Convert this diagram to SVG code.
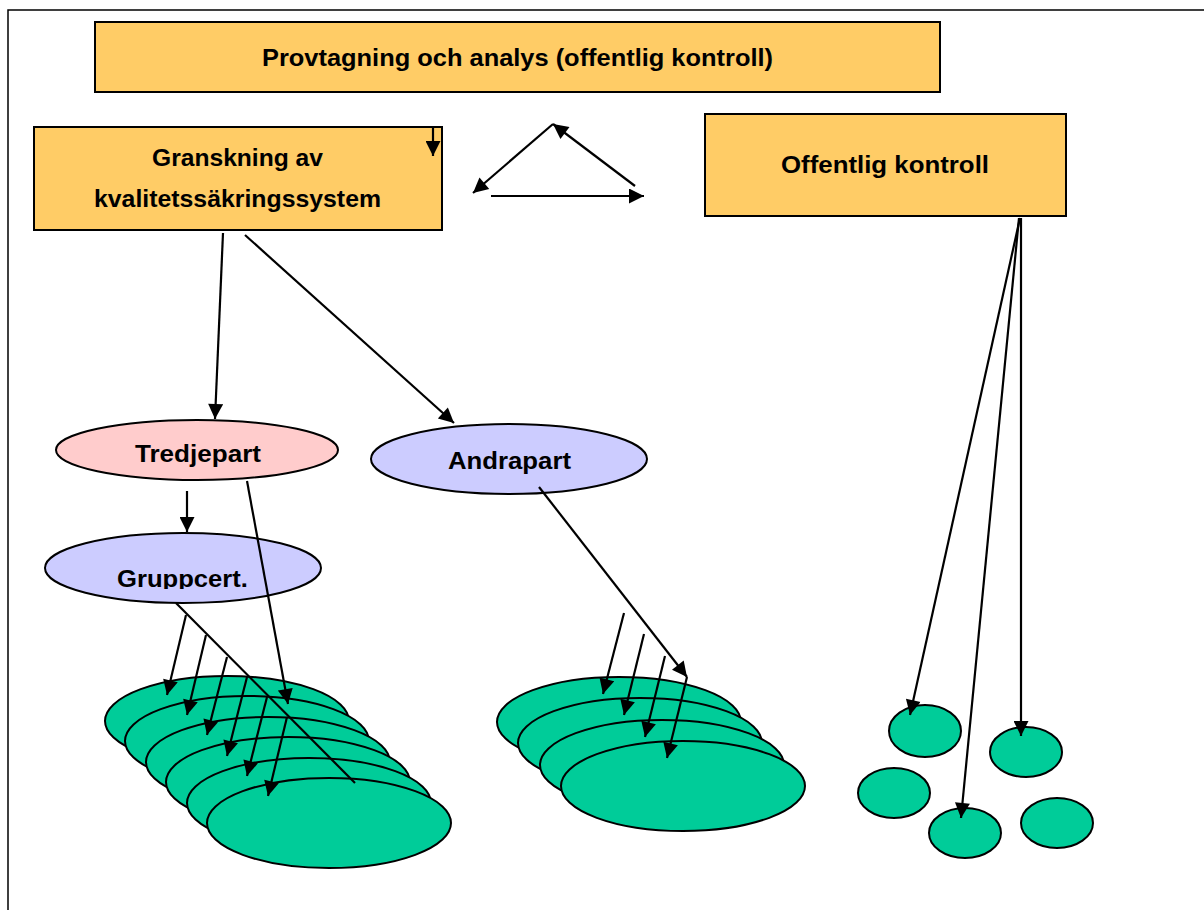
<svg xmlns="http://www.w3.org/2000/svg" width="1204" height="910" viewBox="0 0 1204 910">
<style>
.box{fill:#FFCC66;stroke:#000;stroke-width:2}
.pink{fill:#FFCCCC;stroke:#000;stroke-width:2}
.lav{fill:#CCCCFF;stroke:#000;stroke-width:2}
.grn{fill:#00CC99;stroke:#000;stroke-width:2}
.t{font-family:"Liberation Sans",Arial,sans-serif;font-weight:bold;font-size:24.5px;fill:#000}
.c{stroke:#000;stroke-width:2.2;fill:none}
.a{stroke:#000;stroke-width:2.2;fill:none;marker-end:url(#ah)}
</style>
<defs>
<marker id="ah" viewBox="0 0 10 10" refX="10" refY="5" markerWidth="17" markerHeight="15" markerUnits="userSpaceOnUse" orient="auto"><path d="M0,0 L10,5 L0,10 z" fill="#000"/></marker>
<clipPath id="gclip"><rect x="40" y="530" width="300" height="59"/></clipPath>
</defs>
<rect width="1204" height="910" fill="#fff"/>
<path d="M8,910 V10 H1210" fill="none" stroke="#000" stroke-width="1.5"/>

<g id="provtagning">
<rect class="box" x="95" y="22" width="845" height="70"/>
<text class="t" x="262" y="66" textLength="511" lengthAdjust="spacingAndGlyphs">Provtagning och analys (offentlig kontroll)</text>
</g>
<g id="granskning">
<rect class="box" x="34" y="127" width="408" height="103"/>
<text class="t" x="152" y="166" textLength="171" lengthAdjust="spacingAndGlyphs">Granskning av</text>
<text class="t" x="94" y="207" textLength="287" lengthAdjust="spacingAndGlyphs">kvalitetssäkringssystem</text>
</g>
<g id="offentlig">
<rect class="box" x="705" y="114" width="361" height="102"/>
<text class="t" x="781" y="173" textLength="208" lengthAdjust="spacingAndGlyphs">Offentlig kontroll</text>
</g>

<g id="cluster-left">
<ellipse class="grn" cx="227" cy="721" rx="122" ry="45"/>
<ellipse class="grn" cx="247" cy="741" rx="122" ry="45"/>
<ellipse class="grn" cx="268" cy="762" rx="122" ry="45"/>
<ellipse class="grn" cx="288" cy="782" rx="122" ry="45"/>
<ellipse class="grn" cx="309" cy="803" rx="122" ry="45"/>
<ellipse class="grn" cx="329" cy="823" rx="122" ry="45"/>
</g>
<g id="cluster-middle">
<ellipse class="grn" cx="619" cy="722" rx="122" ry="45"/>
<ellipse class="grn" cx="640" cy="743" rx="122" ry="45"/>
<ellipse class="grn" cx="662" cy="765" rx="122" ry="45"/>
<ellipse class="grn" cx="683" cy="786" rx="122" ry="45"/>
</g>
<g id="cluster-right">
<ellipse class="grn" cx="925" cy="731" rx="36" ry="26"/>
<ellipse class="grn" cx="1026" cy="752" rx="36" ry="25"/>
<ellipse class="grn" cx="894" cy="793" rx="36" ry="25"/>
<ellipse class="grn" cx="965" cy="833" rx="36" ry="25"/>
<ellipse class="grn" cx="1057" cy="823" rx="36" ry="25"/>
</g>

<g id="tredjepart">
<ellipse class="pink" cx="197" cy="450" rx="141" ry="30"/>
<text class="t" x="135" y="462" textLength="126" lengthAdjust="spacingAndGlyphs">Tredjepart</text>
</g>
<g id="andrapart">
<ellipse class="lav" cx="509" cy="459" rx="138" ry="35"/>
<text class="t" x="448" y="469" textLength="123" lengthAdjust="spacingAndGlyphs">Andrapart</text>
</g>
<g id="gruppcert">
<ellipse class="lav" cx="183" cy="568" rx="138" ry="35"/>
<text class="t" x="117" y="587" textLength="131" lengthAdjust="spacingAndGlyphs" clip-path="url(#gclip)">Gruppcert.</text>
</g>

<g id="connectors">
<line class="a" x1="433" y1="127" x2="433" y2="156"/>
<line class="a" x1="553" y1="124" x2="473" y2="193"/>
<line class="a" x1="635" y1="186" x2="553" y2="124"/>
<line class="a" x1="491" y1="196" x2="644" y2="196"/>
<line class="a" x1="223" y1="233" x2="215" y2="419"/>
<line class="a" x1="245" y1="235" x2="454" y2="423"/>
<line class="a" x1="187" y1="491" x2="187" y2="532"/>
<line class="a" x1="247" y1="481" x2="288" y2="704"/>
<line class="c" x1="176" y1="603" x2="355" y2="783"/>
<line class="a" x1="186" y1="615" x2="167" y2="695"/>
<line class="a" x1="206" y1="635" x2="187" y2="715"/>
<line class="a" x1="227" y1="657" x2="207" y2="735"/>
<line class="a" x1="247" y1="677" x2="227" y2="756"/>
<line class="a" x1="267" y1="697" x2="247" y2="776"/>
<line class="a" x1="287" y1="717" x2="268" y2="796"/>
<line class="a" x1="539" y1="487" x2="687" y2="677"/>
<line class="a" x1="624" y1="613" x2="603" y2="694"/>
<line class="a" x1="644" y1="634" x2="624" y2="715"/>
<line class="a" x1="665" y1="656" x2="645" y2="737"/>
<line class="a" x1="687" y1="677" x2="667" y2="758"/>
<line class="a" x1="1020" y1="218" x2="910" y2="715"/>
<line class="a" x1="1021" y1="218" x2="1021" y2="736"/>
<line class="a" x1="1019" y1="218" x2="961" y2="818"/>
</g>
</svg>
